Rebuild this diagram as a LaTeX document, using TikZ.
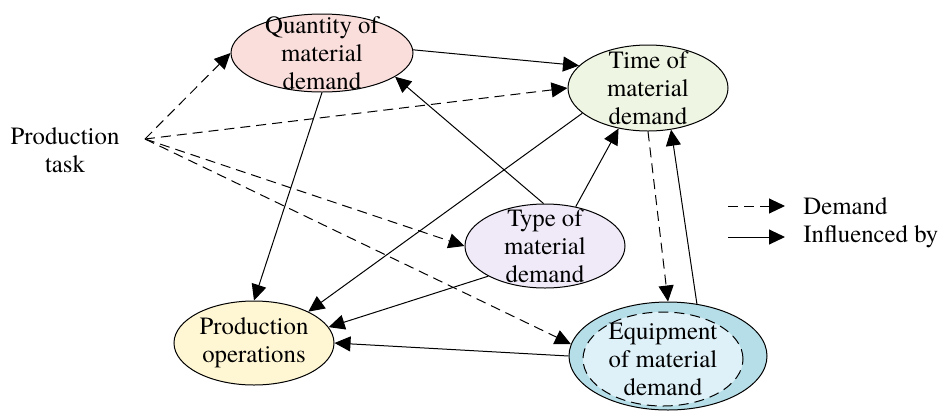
\documentclass[tikz,border=0pt]{standalone}
\usepackage{fontspec}
\setmainfont{TeX Gyre Termes}
\usetikzlibrary{shapes,arrows.meta,positioning}

\definecolor{qtypink}{RGB}{249,222,220}
\definecolor{timegreen}{RGB}{238,245,226}
\definecolor{typelilac}{RGB}{240,234,248}
\definecolor{opsyellow}{RGB}{255,247,212}
\definecolor{equipblue}{RGB}{182,222,232}
\definecolor{equiplight}{RGB}{222,241,248}

\begin{document}
\begin{tikzpicture}[x=0.5pt, y=-0.5pt, font=\fontsize{12.4}{14}\selectfont,
    bubble/.style={ellipse, draw, inner sep=0pt, line width=0.5pt},
    demand/.style={-{Triangle[length=8pt,width=7.5pt]}, dash pattern=on 5pt off 3pt, line width=0.5pt},
    influence/.style={-{Triangle[length=8pt,width=7.5pt]}, line width=0.5pt}]
    \useasboundingbox (0,0) rectangle (938,414);

    % demand bubbles
    \node[bubble, fill=qtypink, minimum width=91pt, minimum height=39pt,
        label={[align=center]center:{Quantity of\\material\\demand}}] (qty) at (322,53) {};
    \node[bubble, fill=timegreen, minimum width=80pt, minimum height=43pt,
        label={[align=center]center:{Time of\\material\\demand}}] (time) at (648,88) {};
    \node[bubble, fill=typelilac, minimum width=80pt, minimum height=42pt,
        label={[align=center]center:{Type of\\material\\demand}}] (type) at (545,246) {};
    \node[bubble, fill=opsyellow, minimum width=80pt, minimum height=42pt,
        label={[align=center]center:{Production\\operations}}] (ops) at (254,343) {};
    \node[bubble, fill=equipblue, minimum width=99pt, minimum height=54pt] (equip) at (668,356) {};
    \node[bubble, fill=equiplight, dash pattern=on 5pt off 3pt, minimum width=80pt, minimum height=47pt,
        label={[align=center]center:{Equipment\\of material\\demand}}] (equip-in) at (663,359) {};

    % production task
    \node[align=center] (task) at (65,150) {Production\\task};
    \coordinate (task-out) at (145,139);

    \draw[demand] (task-out) -- (qty.west);
    \draw[demand] (task-out) -- (time.west);
    \draw[demand] (task-out) -- (type.west);
    \draw[demand] (task-out) -- (equip.173);
    \draw[demand] (time.south) -- (equip.north);

    \draw[influence] (qty.2) -- (time.162);
    \draw[influence] (qty.south) -- (ops.north);
    \draw[influence] (type.92) -- (qty.342);
    \draw[influence] (type.52) -- (time.234);
    \draw[influence] (time.201) -- (ops.30);
    \draw[influence] (type.208) -- (ops.12);
    \draw[influence] (equip.west) -- (ops.east);
    \draw[influence] (equip.61) -- (time.299);

    % legend
    \coordinate (leg-d) at (728,206);
    \coordinate (leg-i) at (728,237);
    \draw[demand] (leg-d) -- ++(57,0) coordinate (leg-d-end);
    \draw[influence] (leg-i) -- ++(57,0) coordinate (leg-i-end);
    \node[anchor=west, inner sep=0pt] (leg-d-text) at (803,206) {Demand};
    \node[anchor=west, inner sep=0pt] (leg-i-text) at (803,237) {Influenced by};
\end{tikzpicture}
\end{document}
